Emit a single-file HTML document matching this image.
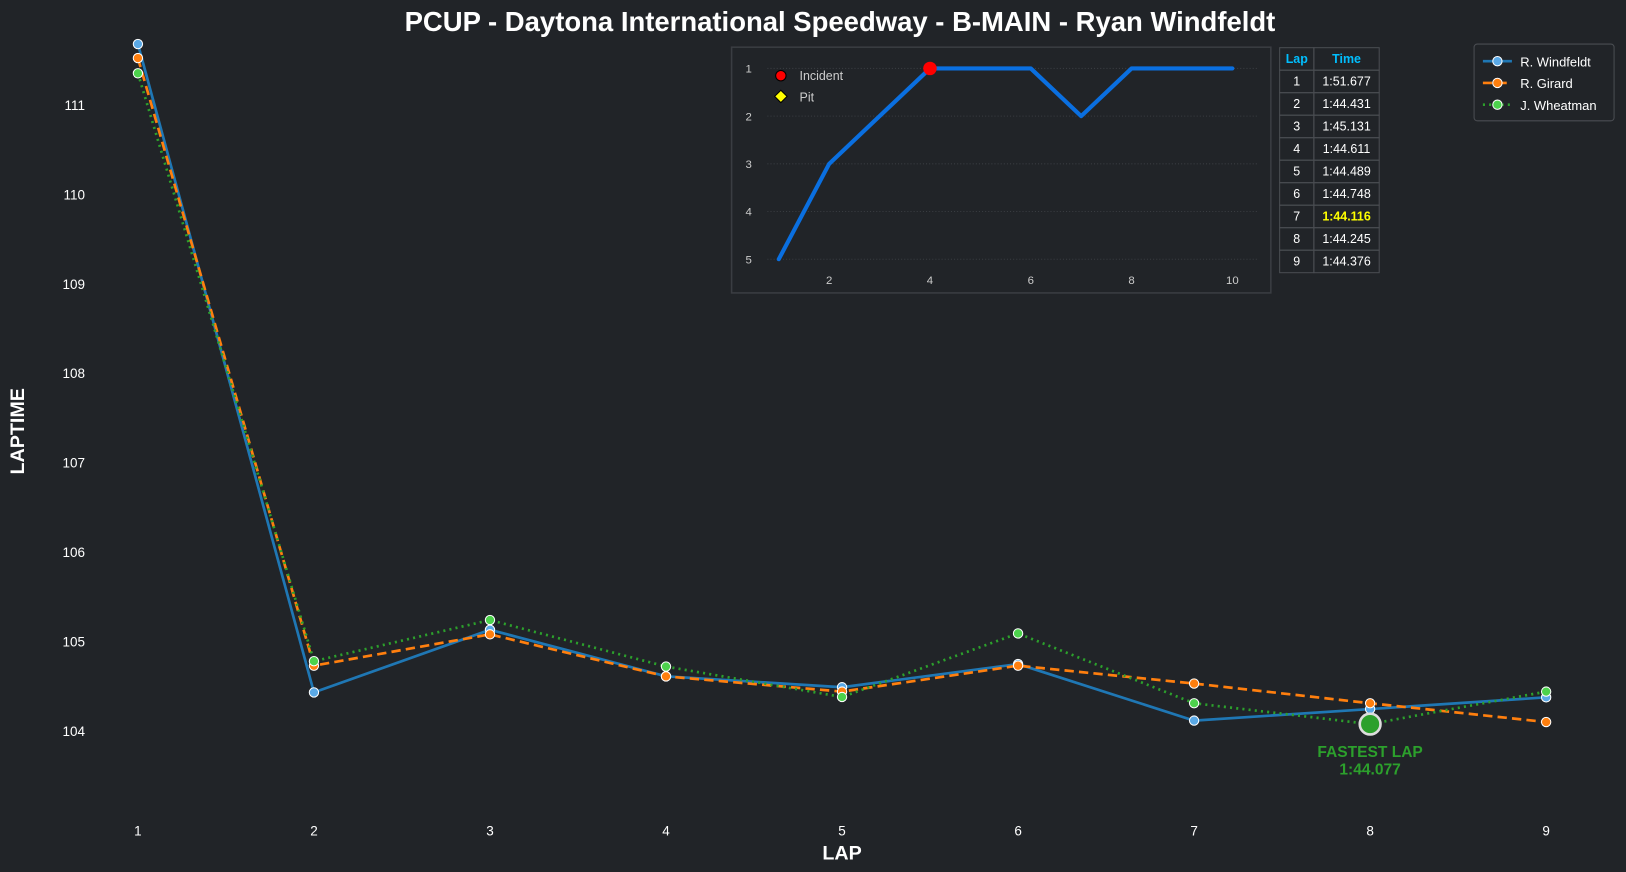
<!DOCTYPE html>
<html><head><meta charset="utf-8"><style>
html,body{margin:0;padding:0;background:#212428;}
svg{display:block;font-family:"Liberation Sans",Arial,sans-serif;}
</style></head><body>
<svg id="c" width="1626" height="872" viewBox="0 0 1568 841" preserveAspectRatio="none">
<rect x="0" y="0" width="1568" height="841" fill="#212428"/>
<text x="810" y="30" fill="#ffffff" font-size="26.5" font-weight="bold" text-anchor="middle">PCUP - Daytona International Speedway - B-MAIN - Ryan Windfeldt</text>
<text x="812" y="829" fill="#ffffff" font-size="19" font-weight="bold" text-anchor="middle">LAP</text>
<text x="23" y="416" fill="#ffffff" font-size="19" font-weight="bold" text-anchor="middle" transform="rotate(-90 23 416)">LAPTIME</text>
<g id="main"></g>
<g id="inset"></g>
<g id="tbl"></g>
<g id="legend"></g>
</svg>
<script>
const laps=[1,2,3,4,5,6,7,8,9];
const windfeldt=[111.677,104.431,105.131,104.611,104.489,104.748,104.116,104.245,104.376];
const girard=[111.52,104.73,105.08,104.61,104.44,104.73,104.53,104.31,104.10];
const wheatman=[111.35,104.78,105.24,104.72,104.38,105.09,104.31,104.077,104.44];
const yTicks=[104,105,106,107,108,109,110,111];
const posLaps=[1,2,3,4,5,6,7,8,9,10];
const positions=[5,3,2,1,1,1,2,1,1,1];
const incidentLaps=[4];
const insetXTicks=[2,4,6,8,10];
const insetYTicks=[1,2,3,4,5];
const tableTimes=["1:51.677","1:44.431","1:45.131","1:44.611","1:44.489","1:44.748","1:44.116","1:44.245","1:44.376"];
const bestRow=6;
const fastestLap=8, fastestTime=104.077, fastestLabel="1:44.077";

const NS="http://www.w3.org/2000/svg";
function mk(tag,attrs,parent,text){const e=document.createElementNS(NS,tag);for(const k in attrs)e.setAttribute(k,attrs[k]);if(text!==undefined)e.textContent=text;parent.appendChild(e);return e;}
const X=v=>133+(v-1)*169.75;
const Y=v=>705-(v-104)*86.3;
const main=document.getElementById('main');
yTicks.forEach(t=>{const e=mk('text',{x:82,y:Y(t)+5,fill:'#fff','font-size':13,'text-anchor':'end'},main,String(t));

});
laps.forEach(t=>{const e=mk('text',{x:X(t),y:806,fill:'#fff','font-size':13,'text-anchor':'middle'},main,String(t));

});
const series=[
 {name:'windfeldt',data:windfeldt,color:'#1f77b4',mk:'#5aa9e6',dash:''},
 {name:'girard',data:girard,color:'#ff7f0e',mk:'#ff7f0e',dash:'9,5'},
 {name:'wheatman',data:wheatman,color:'#2ca02c',mk:'#4cd24c',dash:'2,4'}];
series.forEach(s=>{
 const p=mk('polyline',{points:s.data.map((v,i)=>X(laps[i])+','+Y(v)).join(' '),fill:'none',stroke:s.color,'stroke-width':2.6,'stroke-dasharray':s.dash},main);
 
 
 s.data.forEach((v,i)=>{const c=mk('circle',{cx:X(laps[i]),cy:Y(v),r:4.5,fill:s.mk,stroke:'#fff','stroke-width':1},main);
 
 });
});
const fc=mk('circle',{cx:X(fastestLap),cy:Y(fastestTime),r:10,fill:'#2ca02c',stroke:'#ddd','stroke-width':2.5},main);


const f1=mk('text',{x:X(fastestLap),y:730,fill:'#2ca02c','font-size':15,'font-weight':'bold','text-anchor':'middle'},main,'FASTEST LAP');


const f2=mk('text',{x:X(fastestLap),y:747,fill:'#2ca02c','font-size':15,'font-weight':'bold','text-anchor':'middle'},main,fastestLabel);



// inset
const ins=document.getElementById('inset');
const IX=v=>751+(v-1)*48.6, IY=v=>66+(v-1)*46;
const ib=mk('rect',{x:705.5,y:45.5,width:520,height:237,fill:'#212428',stroke:'#3a3d42','stroke-width':1.5},ins);


insetYTicks.forEach(t=>{mk('line',{x1:740,x2:1212,y1:IY(t),y2:IY(t),stroke:'#3a3d42','stroke-dasharray':'1,2'},ins);
 const e=mk('text',{x:722,y:IY(t)+4,fill:'#ccc','font-size':11,'text-anchor':'middle'},ins,String(t));
 
 });
insetXTicks.forEach(t=>{const e=mk('text',{x:IX(t),y:274,fill:'#ccc','font-size':11,'text-anchor':'middle'},ins,String(t));
 
 });
const pl=mk('polyline',{points:positions.map((v,i)=>IX(posLaps[i])+','+IY(v)).join(' '),fill:'none',stroke:'#0a6fe0','stroke-width':4,'stroke-linejoin':'round','stroke-linecap':'round'},ins);


incidentLaps.forEach(l=>{const c=mk('circle',{cx:IX(l),cy:IY(positions[posLaps.indexOf(l)]),r:6.5,fill:'#ff0000'},ins);
 
 });
mk('circle',{cx:753,cy:73,r:5,fill:'#ff0000',stroke:'#000','stroke-width':1},ins);
const li=mk('text',{x:771,y:77,fill:'#ccc','font-size':12},ins,'Incident');


mk('polygon',{points:'753,87 759,93 753,99 747,93',fill:'#ffff00',stroke:'#000','stroke-width':1},ins);
const lp=mk('text',{x:771,y:98,fill:'#ccc','font-size':12},ins,'Pit');



// table
const tb=document.getElementById('tbl');
const rh=21.7, tx0=1234, tx1=1267, tx2=1330, ty0=46;
for(let r=0;r<=tableTimes.length;r++){
 const y=ty0+r*rh;
 mk('rect',{x:tx0,y:y,width:tx1-tx0,height:rh,fill:'none',stroke:'#4a4d52','stroke-width':1},tb);
 mk('rect',{x:tx1,y:y,width:tx2-tx1,height:rh,fill:'none',stroke:'#4a4d52','stroke-width':1},tb);
 if(r===0){
  const a=mk('text',{x:(tx0+tx1)/2,y:y+15,fill:'#00bfff','font-size':12,'font-weight':'bold','text-anchor':'middle'},tb,'Lap');
  
  
  const b=mk('text',{x:(tx1+tx2)/2,y:y+15,fill:'#00bfff','font-size':12,'font-weight':'bold','text-anchor':'middle'},tb,'Time');
  
  
 } else {
  const best=(r-1)===bestRow;
  const a=mk('text',{x:(tx0+tx1)/2,y:y+15,fill:'#fff','font-size':12,'text-anchor':'middle'},tb,String(r));
  
  
  const b=mk('text',{x:(tx1+tx2)/2,y:y+15,fill:best?'#ffff00':'#fff','font-size':12,'font-weight':best?'bold':'normal','text-anchor':'middle'},tb,tableTimes[r-1]);
  
  
 }
}

// legend
const lg=document.getElementById('legend');
const lr=mk('rect',{x:1421.5,y:42.5,width:135,height:74,rx:3,fill:'#212428',stroke:'#4a4d52'},lg);


const names=['R. Windfeldt','R. Girard','J. Wheatman'];
series.forEach((s,i)=>{const y=59+i*21;
 mk('line',{x1:1430,x2:1458,y1:y,y2:y,stroke:s.color,'stroke-width':2.5,'stroke-dasharray':s.dash},lg);
 mk('circle',{cx:1444,cy:y,r:4.5,fill:s.mk,stroke:'#fff','stroke-width':1},lg);
 const t=mk('text',{x:1466,y:y+5,fill:'#fff','font-size':12.5},lg,names[i]);
 
 });
</script>
</body></html>
